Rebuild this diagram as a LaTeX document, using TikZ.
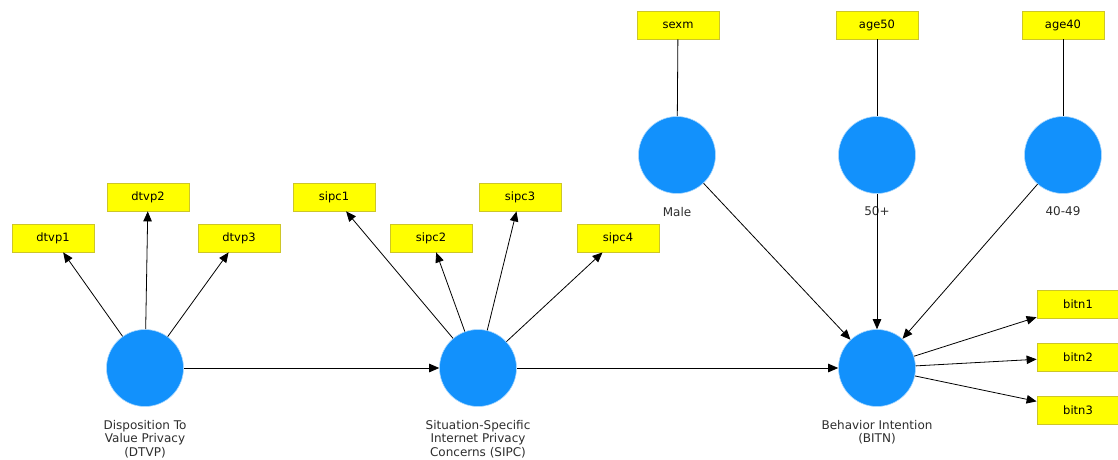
\documentclass[tikz,border=0pt]{standalone}
\usepackage{fontspec}
\setmainfont{DejaVu Sans}
\usetikzlibrary{arrows.meta,positioning}
\definecolor{latentblue}{RGB}{18,145,252}
\definecolor{boxyellow}{RGB}{255,255,0}
\definecolor{boxedge}{RGB}{205,198,40}
\definecolor{labelgray}{RGB}{45,45,45}

\begin{document}
\begin{tikzpicture}[x=1pt, y=-1pt, > = {Triangle[length=10pt,width=8.5pt]},
    latent/.style = {circle, fill=latentblue, draw=latentblue!35, line width=0.6pt, minimum size=77pt, inner sep=0pt},
    indicator/.style = {rectangle, fill=boxyellow, draw=boxedge, line width=0.8pt, minimum width=82pt, minimum height=28pt, inner sep=0pt, font=\fontsize{11.5}{13}\selectfont},
    caption/.style = {align=center, inner sep=0pt, text=labelgray, font=\fontsize{12}{13.5}\selectfont},
    path/.style = {line width=0.8pt, ->},
    link/.style = {line width=0.8pt}]

    \useasboundingbox (0,0) rectangle (1118,459);

    % latent variables
    \node[latent] (dtvp) at (145,368) {};
    \node[latent] (sipc) at (478,368) {};
    \node[latent] (bitn) at (877,368) {};
    \node[latent] (male) at (677,155) {};
    \node[latent] (fifty) at (877,155) {};
    \node[latent] (forty) at (1063,155) {};

    % captions
    \node[caption, below=13pt of dtvp] (dtvplbl) {Disposition To\\Value Privacy\\(DTVP)};
    \node[caption, below=13pt of sipc] (sipclbl) {Situation-Specific\\Internet Privacy\\Concerns (SIPC)};
    \node[caption, below=13pt of bitn] (bitnlbl) {Behavior Intention\\(BITN)};
    \node[caption, below=13pt of male] (malelbl) {Male};
    \node[caption, below=13pt of fifty] (fiftylbl) {50+};
    \node[caption, below=13pt of forty] (fortylbl) {40-49};

    % indicators
    \node[indicator] (dtvp1) at (53,238) {dtvp1};
    \node[indicator] (dtvp2) at (148,197) {dtvp2};
    \node[indicator] (dtvp3) at (239,238) {dtvp3};
    \node[indicator] (sipc1) at (334,197) {sipc1};
    \node[indicator] (sipc2) at (431,238) {sipc2};
    \node[indicator] (sipc3) at (520,197) {sipc3};
    \node[indicator] (sipc4) at (618,238) {sipc4};
    \node[indicator] (sexm) at (678,25) {sexm};
    \node[indicator] (age50) at (877,25) {age50};
    \node[indicator] (age40) at (1063,25) {age40};
    \node[indicator] (bitn1) at (1078,304) {bitn1};
    \node[indicator] (bitn2) at (1078,357) {bitn2};
    \node[indicator] (bitn3) at (1078,410) {bitn3};

    % measurement paths
    \foreach \i in {1,2,3} \draw[path] (dtvp) -- (dtvp\i);
    \foreach \i in {1,...,4} \draw[path] (sipc) -- (sipc\i);
    \foreach \i in {1,2,3} \draw[path] (bitn) -- (bitn\i);
    \draw[link] (sexm) -- (male);
    \draw[link] (age50) -- (fifty);
    \draw[link] (age40) -- (forty);

    % structural paths
    \draw[path] (dtvp) -- (sipc);
    \draw[path] (sipc) -- (bitn);
    \draw[path] (male) -- (bitn);
    \draw[path] (fifty) -- (bitn);
    \draw[path] (forty) -- (bitn);

\end{tikzpicture}
\end{document}
